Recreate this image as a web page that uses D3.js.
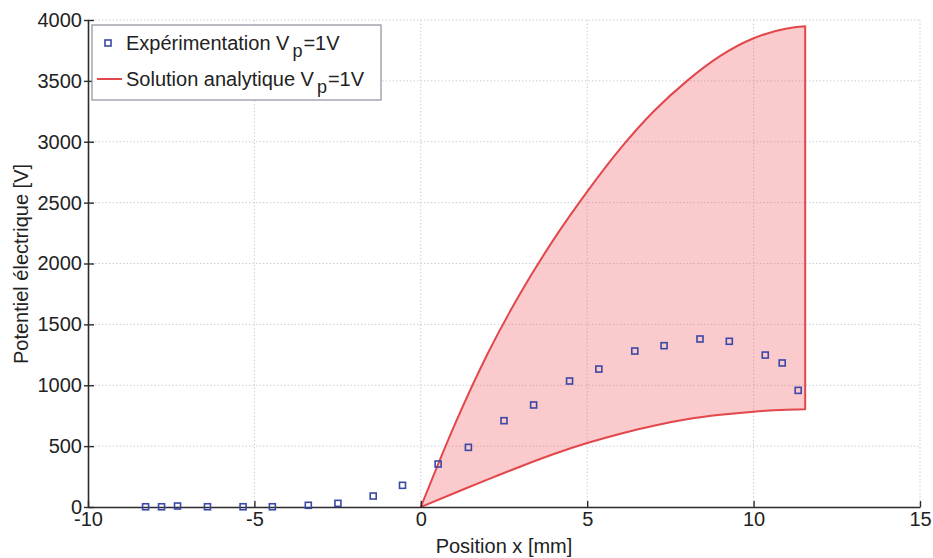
<!DOCTYPE html>
<html>
<head>
<meta charset="utf-8">
<script src="https://cdn.jsdelivr.net/npm/d3@7"></script>
<style>
  html, body { margin: 0; padding: 0; background: #fff; }
  svg { display: block; font-family: "Liberation Sans", Arial, Helvetica, sans-serif; }
</style>
</head>
<body>
<svg id="chart" width="933" height="558"></svg>
<script>
// Experimental points
const expX = [-8.27, -7.79, -7.31, -6.41, -5.34, -4.46, -3.38, -2.49, -1.43, -0.55, 0.52,
              1.43, 2.50, 3.39, 4.47, 5.35, 6.43, 7.31, 8.39, 9.27, 10.35, 10.86, 11.34];
const expY = [2, 2, 8, 2, 2, 2, 14, 30, 90, 178, 353,
              490, 709, 838, 1035, 1133, 1281, 1325, 1380, 1361, 1248, 1183, 958];

// Analytic solution band (upper / lower bounds)
const bandX = [0, 1, 2, 3, 4, 5, 6, 7, 8, 9, 10, 11, 11.55];
const bandUpper = [0, 665, 1255, 1760, 2200, 2590, 2945, 3250, 3500, 3705, 3850, 3930, 3948];
const bandLower = [0, 113, 225, 333, 435, 525, 602, 668, 720, 757, 783, 798, 803];

// Ticks
const xTicks = [-10, -5, 0, 5, 10, 15];
const yTicks = [0, 500, 1000, 1500, 2000, 2500, 3000, 3500, 4000];

(function () {
const svg = d3.select("#chart");
const pL = 88, pR = 920, pT = 20, pB = 507;

const x = d3.scaleLinear().domain([-10, 15]).range([pL, pR]);
const y = d3.scaleLinear().domain([0, 4000]).range([pB, pT]);

// Grid
const grid = svg.append("g");
grid.selectAll(".gx").data(xTicks.filter(d => d !== -10)).enter().append("line")
  .attr("x1", d => x(d)).attr("x2", d => x(d))
  .attr("y1", pT).attr("y2", pB)
  .attr("stroke", "#c9ced8").attr("stroke-width", 1).attr("stroke-dasharray", "1.5,2");
grid.selectAll(".gy").data(yTicks.filter(d => d !== 0)).enter().append("line")
  .attr("x1", pL).attr("x2", pR)
  .attr("y1", d => y(d)).attr("y2", d => y(d))
  .attr("stroke", "#c9ced8").attr("stroke-width", 1).attr("stroke-dasharray", "1.5,2");

// Band
const band = bandX.map((v, i) => ({ x: v, lo: bandLower[i], hi: bandUpper[i] }));
const area = d3.area()
  .x(d => x(d.x)).y0(d => y(d.lo)).y1(d => y(d.hi))
  .curve(d3.curveMonotoneX);
svg.append("path").datum(band)
  .attr("d", area)
  .attr("fill", "#f05a60").attr("fill-opacity", 0.32)
  .attr("stroke", "#e2474c").attr("stroke-width", 2).attr("stroke-linejoin", "round");

// Axes
const axisColor = "#2b2b2b";
const fmt = d => String(d);
const xAxis = d3.axisBottom(x).tickValues(xTicks).tickFormat(fmt).tickSizeInner(-6).tickSizeOuter(0).tickPadding(5);
const yAxis = d3.axisLeft(y).tickValues(yTicks).tickFormat(fmt).tickSizeInner(-6).tickSizeOuter(0).tickPadding(6);

const gx = svg.append("g").attr("transform", `translate(0,${pB})`).call(xAxis);
const gy = svg.append("g").attr("transform", `translate(${pL},0)`).call(yAxis);
[gx, gy].forEach(g => {
  g.select(".domain").attr("stroke", axisColor).attr("stroke-width", 1.6);
  g.selectAll(".tick line").attr("stroke", axisColor).attr("stroke-width", 1.4);
  g.selectAll(".tick text").attr("fill", "#222").style("font-size", "20px")
    .style("font-family", '"Liberation Sans", Arial, sans-serif');
});
gy.selectAll(".tick").append("line").attr("x1", -4).attr("x2", 0)
  .attr("stroke", axisColor).attr("stroke-width", 1.4);

// Markers
const ms = 6;
svg.append("g").selectAll("rect").data(expX.map((v, i) => [v, expY[i]])).enter().append("rect")
  .attr("x", d => x(d[0]) - ms / 2).attr("y", d => y(d[1]) - ms / 2)
  .attr("width", ms).attr("height", ms)
  .attr("fill", "none").attr("stroke", "#3a48a6").attr("stroke-width", 1.6);

// Axis labels
svg.append("text").attr("x", 504).attr("y", 553).attr("text-anchor", "middle")
  .style("font-size", "20px").attr("fill", "#222").text("Position x [mm]");
svg.append("text").attr("transform", "translate(28,264) rotate(-90)").attr("text-anchor", "middle")
  .style("font-size", "20px").attr("fill", "#222").text("Potentiel électrique [V]");

// Legend
const lg = svg.append("g");
lg.append("rect").attr("x", 92).attr("y", 25).attr("width", 289).attr("height", 75)
  .attr("fill", "#fff").attr("stroke", "#8a8f99").attr("stroke-width", 1.2);
lg.append("rect").attr("x", 108 - ms / 2).attr("y", 43 - ms / 2).attr("width", ms).attr("height", ms)
  .attr("fill", "none").attr("stroke", "#3a48a6").attr("stroke-width", 1.6);
lg.append("line").attr("x1", 97).attr("x2", 122).attr("y1", 79).attr("y2", 79)
  .attr("stroke", "#e2474c").attr("stroke-width", 2);

const labels = [["Expérimentation V", 50], ["Solution analytique V", 86]];
labels.forEach(([t, yb]) => {
  const tx = lg.append("text").attr("x", 126).attr("y", yb).style("font-size", "20px").attr("fill", "#222");
  tx.append("tspan").text(t);
  tx.append("tspan").attr("dx", 3).attr("dy", 7).style("font-size", "18px").text("p");
  tx.append("tspan").attr("dx", 1).attr("dy", -7).text("=1V");
});
})();
</script>
</body>
</html>
